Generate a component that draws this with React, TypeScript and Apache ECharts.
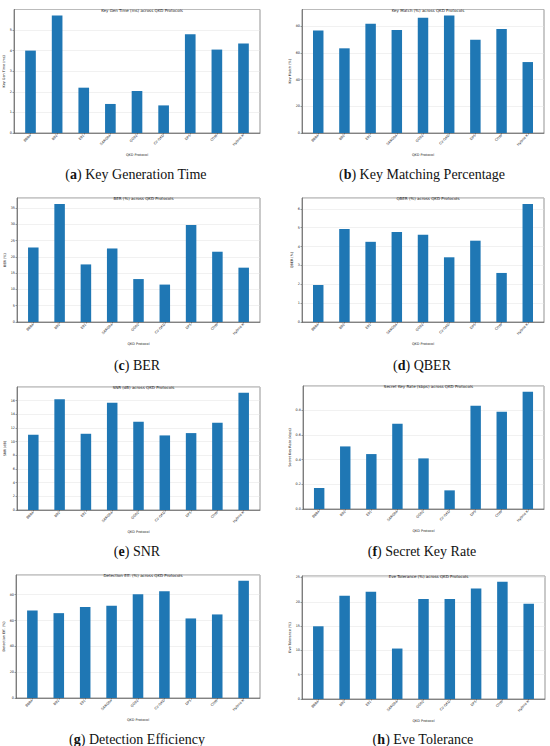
import React, { useEffect, useRef } from "react";
import * as echarts from "echarts";

const categories = ["BB84", "B92", "E91", "SARG04", "GG02", "CV-QKD", "DPS", "COW", "Hybrid-X"];

const keyGenTime = [4.0, 5.71, 2.2, 1.41, 2.04, 1.34, 4.79, 4.05, 4.35];
const keyMatch = [76.8, 63.5, 82.0, 77.3, 86.5, 88.2, 70.0, 78.0, 53.2];
const ber = [22.9, 36.3, 17.7, 22.6, 13.2, 11.5, 29.8, 21.6, 16.7];
const qber = [1.96, 4.93, 4.25, 4.77, 4.63, 3.43, 4.31, 2.6, 6.26];
const snr = [11.0, 16.2, 11.14, 15.66, 12.89, 10.9, 11.24, 12.74, 17.12];
const secretKeyRate = [0.17, 0.507, 0.445, 0.69, 0.41, 0.151, 0.836, 0.787, 0.949];
const detectionEff = [67.8, 65.7, 70.4, 71.4, 80.4, 82.7, 61.6, 64.7, 90.7];
const eveTolerance = [14.96, 21.24, 22.06, 10.38, 20.56, 20.56, 22.75, 24.1, 19.6];

const panelTitles = [
  "Key Gen Time (ms) across QKD Protocols",
  "Key Match (%) across QKD Protocols",
  "BER (%) across QKD Protocols",
  "QBER (%) across QKD Protocols",
  "SNR (dB) across QKD Protocols",
  "Secret Key Rate (kbps) across QKD Protocols",
  "Detection Eff. (%) across QKD Protocols",
  "Eve Tolerance (%) across QKD Protocols",
];
const yNames = [
  "Key Gen Time (ms)",
  "Key Match (%)",
  "BER (%)",
  "QBER (%)",
  "SNR (dB)",
  "Secret Key Rate (kbps)",
  "Detection Eff. (%)",
  "Eve Tolerance (%)",
];
const captionLetters = ["a", "b", "c", "d", "e", "f", "g", "h"];
const captionTexts = [
  "Key Generation Time",
  "Key Matching Percentage",
  "BER",
  "QBER",
  "SNR",
  "Secret Key Rate",
  "Detection Efficiency",
  "Eve Tolerance",
];
const yIntervals = [1, 20, 5, 1, 2, 0.2, 20, 5];
const seriesData = [keyGenTime, keyMatch, ber, qber, snr, secretKeyRate, detectionEff, eveTolerance];

// layout: [left, top, width, height] of each plot box
const boxes = [
  [14, 9.5, 246, 123.5],
  [302, 9.5, 242, 123.5],
  [17, 198, 243, 124],
  [302, 198, 242, 124],
  [17, 387, 243, 123],
  [303, 386, 241, 123],
  [16, 575, 244, 123],
  [302, 576, 243, 123],
];
// caption centre x, centre y
const captionPos = [
  [131, 170],
  [417, 170],
  [132, 361],
  [417, 361],
  [132, 547],
  [417, 547],
  [132, 735],
  [418, 735],
];

const BAR_W = 0.4;
const X_MIN = -0.62;
const X_MAX = 8.62;
const SANS = "DejaVu Sans";
const SERIF = "Liberation Serif";
const SPINE = "#4a4a4a";

export default function App() {
  const ref = useRef<HTMLDivElement>(null);
  useEffect(() => {
    if (!ref.current) return;
    const chart = echarts.init(ref.current, undefined, { renderer: "svg" });
    const idx = categories.map((_, i) => i);

    const grid: any[] = [];
    const xAxis: any[] = [];
    const yAxis: any[] = [];
    const series: any[] = [];
    const title: any[] = [];

    boxes.forEach((b, i) => {
      const [l, t, w, h] = b;
      grid.push({
        left: l,
        top: t,
        width: w,
        height: h,
        show: true,
        borderColor: SPINE,
        borderWidth: 0.6,
        backgroundColor: "transparent",
        containLabel: false,
      });
      xAxis.push({
        type: "value",
        gridIndex: i,
        min: X_MIN,
        max: X_MAX,
        axisLine: { show: true, onZero: false, lineStyle: { color: SPINE, width: 0.6 } },
        axisTick: { show: true, customValues: idx, length: 1.5, lineStyle: { color: SPINE, width: 0.5 } },
        axisLabel: {
          customValues: idx,
          formatter: (v: number) => categories[Math.round(v)] ?? "",
          rotate: 45,
          fontSize: 3.4,
          fontFamily: SANS,
          color: "#222",
          margin: 2,
        },
        splitLine: { show: false },
        name: "QKD Protocol",
        nameLocation: "middle",
        nameGap: 20,
        nameTextStyle: { fontSize: 3.4, fontFamily: SANS, color: "#222" },
      });
      yAxis.push({
        type: "value",
        gridIndex: i,
        min: 0,
        max: (v: any) => v.max * 1.05,
        interval: yIntervals[i],
        axisLine: { show: true, onZero: false, lineStyle: { color: SPINE, width: 0.6 } },
        axisTick: { show: true, length: 1.5, lineStyle: { color: SPINE, width: 0.5 } },
        axisLabel: {
          showMaxLabel: false,
          fontSize: 3.4,
          fontFamily: SANS,
          color: "#222",
          margin: 2,
          formatter: (v: number) => (yIntervals[i] < 1 ? v.toFixed(1) : String(v)),
        },
        splitLine: { show: true, lineStyle: { color: "#e2e2e2", width: 0.5 } },
        name: yNames[i],
        nameLocation: "middle",
        nameRotate: 90,
        nameGap: i % 2 === 0 ? 7 : 9,
        nameTextStyle: { fontSize: 3.4, fontFamily: SANS, color: "#222" },
      });
      series.push({
        type: "bar",
        xAxisIndex: i,
        yAxisIndex: i,
        data: seriesData[i].map((v, k) => [k, v]),
        barWidth: (w * BAR_W) / (X_MAX - X_MIN),
        itemStyle: { color: "#1f77b4" },
      });
      title.push({
        text: panelTitles[i],
        left: l + w / 2,
        top: t - 6.5,
        textAlign: "center",
        textStyle: { fontSize: 4, fontWeight: "normal", fontFamily: SANS, color: "#222" },
      });
      title.push({
        text: `({b|${captionLetters[i]}}) ${captionTexts[i]}`,
        left: captionPos[i][0],
        top: captionPos[i][1] - 8,
        textAlign: "center",
        textStyle: {
          fontSize: 14,
          fontWeight: "normal",
          fontFamily: SERIF,
          color: "#111",
          rich: { b: { fontSize: 14, fontWeight: "bold", fontFamily: SERIF, color: "#111" } },
        },
      });
    });

    chart.setOption({
      animation: false,
      backgroundColor: "#ffffff",
      title,
      grid,
      xAxis,
      yAxis,
      series,
    });
    return () => chart.dispose();
  }, []);

  return (
    <div
      ref={ref}
      style={{ position: "fixed", left: 0, top: 0, width: 550, height: 746, background: "#fff" }}
    />
  );
}
